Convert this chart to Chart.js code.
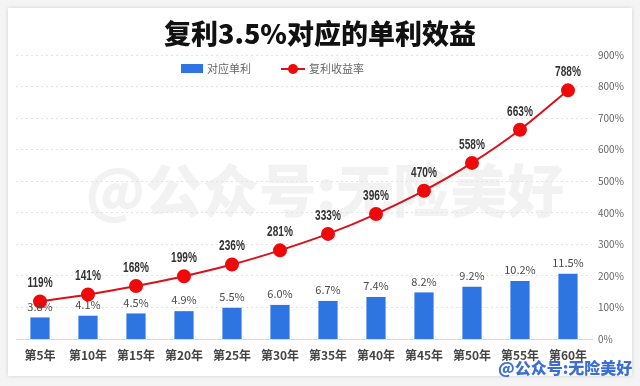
<!DOCTYPE html>
<html><head><meta charset="utf-8">
<script src="https://cdn.jsdelivr.net/npm/chart.js@4"></script>
<style>
html,body{margin:0;padding:0;background:#f4f4f4;}
#wrap{position:relative;width:640px;height:386px;overflow:hidden;background:#f4f4f4;}
#card{position:absolute;left:8px;top:8px;width:624px;height:368px;background:#fff;box-shadow:0 0 4px rgba(0,0,0,0.15);}
#c{position:absolute;left:0;top:0;}
.t{position:absolute;white-space:nowrap;font-family:"Noto Sans CJK SC",sans-serif;line-height:1;}
#title{left:0;width:640px;text-align:center;top:19px;font-size:27px;font-weight:900;color:#111;}
#wm{left:0;width:650px;text-align:center;top:159px;font-size:57px;font-weight:900;color:#f2f2f2;}
#wm2{left:498px;top:359px;font-size:16px;font-weight:900;color:#3c6fd6;}
.lg{top:63px;font-size:11px;color:#666;}
</style></head>
<body><div id="wrap">
<div id="card"></div>
<div class="t" id="wm">@公众号:无险美好</div>
<canvas id="c" width="640" height="386"></canvas>
<div class="t" id="title">复利3.5%对应的单利效益</div>
<div class="t lg" style="left:181px;top:64px;width:22px;height:9px;background:#2e74e3;"></div>
<div class="t lg" style="left:207px;">对应单利</div>
<div class="t lg" style="left:281px;top:68px;width:24px;height:2px;background:#d8121b;"></div>
<div class="t lg" style="left:288px;top:64px;width:10px;height:10px;border-radius:5px;background:#ee0a0a;"></div>
<div class="t lg" style="left:309px;">复利收益率</div>
<div class="t" id="wm2">@公众号:无险美好</div>
</div>
<script>
const categories = ["第5年","第10年","第15年","第20年","第25年","第30年","第35年","第40年","第45年","第50年","第55年","第60年"];
const simpleRate = [3.8,4.1,4.5,4.9,5.5,6.0,6.7,7.4,8.2,9.2,10.2,11.5];
const compoundReturn = [119,141,168,199,236,281,333,396,470,558,663,788];
const rightTicks = [0,100,200,300,400,500,600,700,800,900];

const labelPlugin = {
  id:'labels',
  afterDatasetsDraw(chart){
    const ctx = chart.ctx;
    ctx.save();
    ctx.textAlign='center';
    ctx.textBaseline='middle';
    const barMeta = chart.getDatasetMeta(1);
    ctx.font = '11px "Noto Sans CJK SC", sans-serif';
    ctx.fillStyle = '#4a4a4a';
    barMeta.data.forEach((el,i)=>{
      ctx.fillText(simpleRate[i].toFixed(1)+'%', el.x, el.y-11);
    });
    const lineMeta = chart.getDatasetMeta(0);
    ctx.font = 'bold 14px "Liberation Sans", sans-serif';
    ctx.fillStyle = '#333';
    lineMeta.data.forEach((el,i)=>{
      ctx.save();
      ctx.translate(el.x, el.y-18);
      ctx.scale(0.72,1);
      ctx.fillText(compoundReturn[i]+'%', 0, 0);
      ctx.restore();
    });
    ctx.restore();
  }
};

new Chart(document.getElementById('c'),{
  data:{
    labels:categories,
    datasets:[
      {type:'line',data:compoundReturn,yAxisID:'y1',borderColor:'#d8121b',borderWidth:2,
       pointRadius:6,pointHoverRadius:6,pointBackgroundColor:'#ee0a0a',pointBorderColor:'#ee0a0a',
       tension:0.3,order:0},
      {type:'bar',data:simpleRate,yAxisID:'y',backgroundColor:'#2e74e3',
       barPercentage:0.8,categoryPercentage:0.5,order:1}
    ]
  },
  options:{
    responsive:false,animation:false,
    layout:{padding:{left:16,right:0,top:55,bottom:0}},
    plugins:{legend:{display:false},title:{display:false},tooltip:{enabled:false}},
    scales:{
      x:{grid:{display:false,drawTicks:false},border:{display:true,color:'#d9d9d9'},
         ticks:{padding:9,color:'#444',font:{family:'"Noto Sans CJK SC", sans-serif',size:12,weight:'bold'}},
         afterFit(s){s.height=47;}},
      y:{position:'left',display:false,min:0,max:50},
      y1:{position:'right',min:0,max:900,
         afterBuildTicks(s){s.ticks=rightTicks.map(v=>({value:v}));},
         grid:{color:'#e3e3e3',drawTicks:false},
         border:{display:false,dash:[2,3]},
         ticks:{padding:6,color:'#666',font:{family:'"Noto Sans CJK SC", sans-serif',size:10},callback:v=>v+'%'},
         afterFit(s){s.width=48;}}
    }
  },
  plugins:[labelPlugin]
});
</script>
</body></html>
